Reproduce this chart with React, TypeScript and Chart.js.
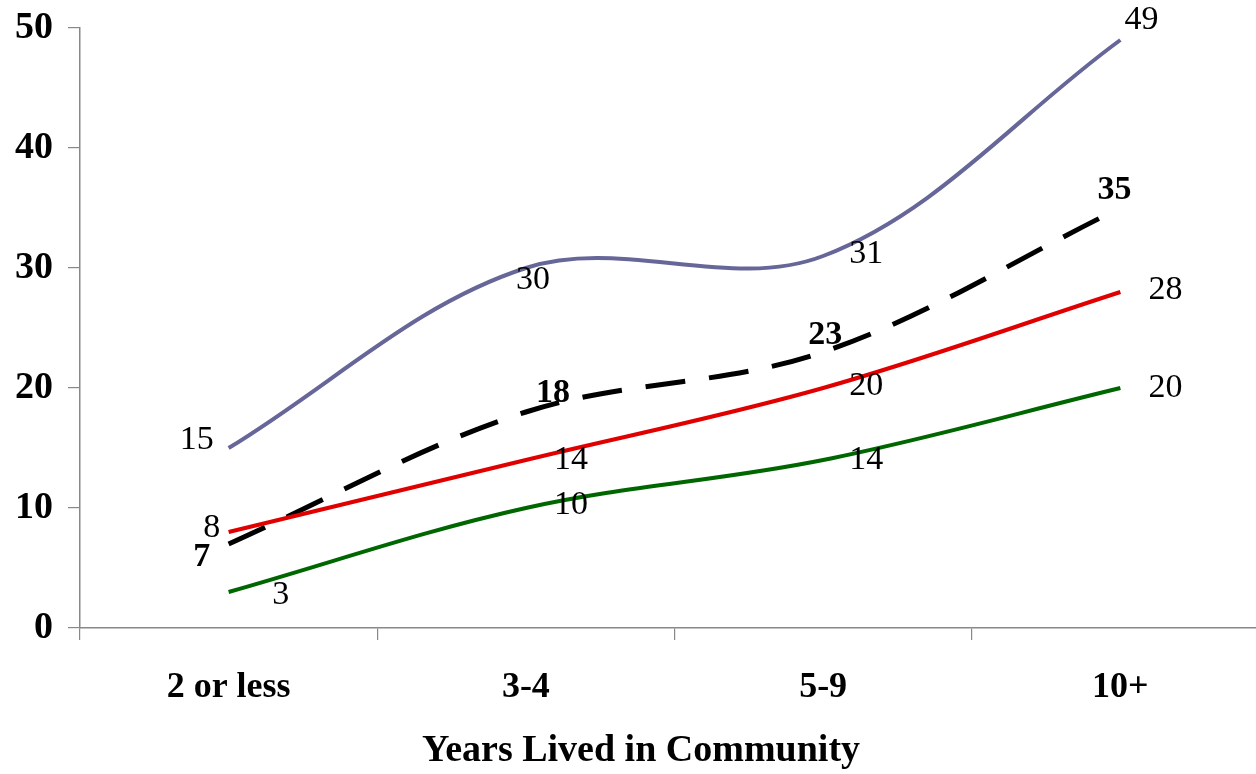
import React, { useEffect, useRef } from "react";
import { Chart, registerables } from "chart.js";

Chart.register(...registerables);

const categories = ["2 or less", "3-4", "5-9", "10+"];
const purpleValues = [15, 30, 31, 49];
const blackValues = [7, 18, 23, 35];
const redValues = [8, 14, 20, 28];
const greenValues = [3, 10, 14, 20];
const yMin = 0;
const yMax = 50;
const yStep = 10;
const axisTitle = "Years Lived in Community";

// label offsets (dx, dy) relative to each point, in pixels
const purpleOffsets = [[-32, -8], [7, 12], [43, -2], [21, -20]];
const blackOffsets = [[-27, 13], [27, -19], [2, -17], [-6, -18]];
const redOffsets = [[-17, -4], [45, 0], [43, -2], [45, -2]];
const greenOffsets = [[52, 3], [45, -3], [43, 0], [45, 0]];

const SERIF = "'Liberation Serif', 'Times New Roman', serif";

export default function App() {
  const ref = useRef<HTMLCanvasElement | null>(null);

  useEffect(() => {
    if (!ref.current) return;
    const offsetsByDataset = [purpleOffsets, redOffsets, greenOffsets, blackOffsets];
    const boldByDataset = [false, false, false, true];

    const labelPlugin = {
      id: "pointLabels",
      afterDatasetsDraw(chart: any) {
        const ctx = chart.ctx;
        ctx.save();
        ctx.fillStyle = "#000";
        ctx.textAlign = "center";
        ctx.textBaseline = "middle";
        chart.data.datasets.forEach((ds: any, i: number) => {
          const meta = chart.getDatasetMeta(i);
          ctx.font = `${boldByDataset[i] ? "bold " : ""}34px ${SERIF}`;
          meta.data.forEach((pt: any, j: number) => {
            const off = offsetsByDataset[i][j];
            ctx.fillText(String(ds.data[j]), pt.x + off[0], pt.y + off[1]);
          });
        });
        ctx.restore();
      },
      afterDraw(chart: any) {
        const ctx = chart.ctx;
        ctx.save();
        ctx.fillStyle = "#000";
        ctx.font = `bold 38px ${SERIF}`;
        ctx.textAlign = "center";
        ctx.textBaseline = "middle";
        ctx.fillText(axisTitle, 641, 751);
        ctx.restore();
      },
    };

    const chart = new Chart(ref.current, {
      type: "line",
      data: {
        labels: categories,
        datasets: [
          { data: purpleValues, borderColor: "#666699", borderWidth: 4, tension: 0.35, pointRadius: 0 },
          { data: redValues, borderColor: "#e00000", borderWidth: 4, tension: 0.35, pointRadius: 0 },
          { data: greenValues, borderColor: "#006600", borderWidth: 4, tension: 0.35, pointRadius: 0 },
          {
            data: blackValues,
            borderColor: "#000000",
            borderWidth: 5,
            borderDash: [40, 24],
            tension: 0.35,
            pointRadius: 0,
          },
        ],
      },
      options: {
        responsive: false,
        animation: false,
        layout: { padding: { top: 28, right: 1, left: 0, bottom: 0 } },
        plugins: { legend: { display: false }, tooltip: { enabled: false } },
        scales: {
          x: {
            type: "category",
            offset: true,
            grid: { offset: true, drawOnChartArea: false, color: "#888", tickLength: 12, lineWidth: 1.2 },
            border: { color: "#888", width: 1.5 },
            ticks: { color: "#000", font: { family: SERIF, size: 36, weight: "bold" }, padding: 26, maxRotation: 0 },
            afterFit(scale: any) {
              scale.height = 146;
              scale.paddingTop = 0;
              scale.paddingBottom = 0;
            },
          },
          y: {
            min: yMin,
            max: yMax,
            ticks: { stepSize: yStep, color: "#000", font: { family: SERIF, size: 38, weight: "bold" }, padding: 15 },
            grid: { drawOnChartArea: false, color: "#888", tickLength: 12, lineWidth: 1.2 },
            border: { color: "#888", width: 1.5 },
            afterFit(scale: any) {
              scale.width = 80;
              scale.paddingTop = 0;
              scale.paddingBottom = 0;
            },
          },
        },
      },
      plugins: [labelPlugin],
    } as any);
    return () => chart.destroy();
  }, []);

  return (
    <div style={{ position: "fixed", left: 0, top: 0, width: 1256, height: 774, overflow: "hidden", background: "#fff" }}>
      <canvas ref={ref} width={1270} height={774} style={{ display: "block", width: 1270, height: 774 }} />
    </div>
  );
}
